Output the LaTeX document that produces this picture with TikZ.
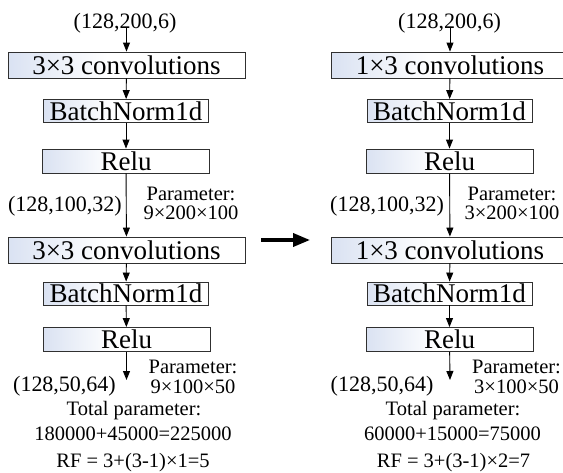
\documentclass[tikz,border=0pt]{standalone}
\usepackage{fontspec}
\setmainfont{Liberation Serif}
\usetikzlibrary{arrows.meta}
\definecolor{boxleft}{HTML}{DAE2F2}
\definecolor{boxline}{HTML}{303030}
\pgfdeclarehorizontalshading{boxshade}{100bp}{color(0bp)=(boxleft); color(25bp)=(boxleft); color(46bp)=(white); color(100bp)=(white)}
\begin{document}
\begin{tikzpicture}[x=1pt,y=-1pt,
  blk/.style={draw=boxline, line width=0.9pt, shading=boxshade, inner sep=0pt, font=\fontsize{27}{30}\selectfont},
  conv/.style={blk, minimum width=237pt, minimum height=26pt},
  bn/.style={blk, minimum width=165pt, minimum height=23pt},
  act/.style={blk, minimum width=167pt, minimum height=24pt},
  lbl/.style={inner sep=0pt, anchor=base, font=\fontsize{22}{24}\selectfont},
  par/.style={inner sep=0pt, anchor=base, font=\fontsize{20.5}{22}\selectfont},
  arr/.style={line width=0.9pt, -{Triangle[length=9pt,width=7pt]}},
  bigarr/.style={line width=3.5pt, -{Triangle[length=17pt,width=13pt]}},
]
\useasboundingbox (0,0) rectangle (563,472);
% ---------- left column ----------
\node[lbl] (lin) at (125,28) {(128,200,6)};
\node[conv] (lc1) at (126.5,65) {3×3 convolutions};
\node[bn] (lb1) at (126,111) {BatchNorm1d};
\node[act] (lr1) at (126,161) {Relu};
\node[conv] (lc2) at (126.5,250) {3×3 convolutions};
\node[bn] (lb2) at (126,293.5) {BatchNorm1d};
\node[act] (lr2) at (126.5,339.5) {Relu};
\coordinate (lend) at (126.5,380);
\node[lbl] (lsh1) at (65,211) {(128,100,32)};
\node[par] (lp1) at (191,200) {Parameter:};
\node[par] (lp1b) at (191,219) {9×200×100};
\node[lbl] (lsh2) at (64.5,391) {(128,50,64)};
\node[par] (lp2) at (193,373) {Parameter:};
\node[par] (lp2b) at (193,393) {9×100×50};
\node[par] (ltot) at (134,415) {Total parameter:};
\node[par] (lsum) at (133,440) {180000+45000=225000};
\node[par] (lrf) at (133,467) {RF = 3+(3-1)×1=5};
\draw[arr] (lin.base -| lc1.north) -- (lc1.north);
\draw[arr] (lc1) -- (lb1);
\draw[arr] (lb1) -- (lr1);
\draw[arr] (lr1) -- (lc2);
\draw[arr] (lc2) -- (lb2);
\draw[arr] (lb2) -- (lr2);
\draw[arr] (lr2) -- (lend);
% ---------- right column ----------
\node[lbl] (rin) at (449.5,28) {(128,200,6)};
\node[conv] (rc1) at (450,65) {1×3 convolutions};
\node[bn] (rb1) at (449.5,111) {BatchNorm1d};
\node[act] (rr1) at (449.5,161) {Relu};
\node[conv] (rc2) at (450,250) {1×3 convolutions};
\node[bn] (rb2) at (449.5,293.5) {BatchNorm1d};
\node[act] (rr2) at (449.5,339.5) {Relu};
\coordinate (rend) at (450,380);
\node[lbl] (rsh1) at (387,211) {(128,100,32)};
\node[par] (rp1) at (512,200) {Parameter:};
\node[par] (rp1b) at (512,219) {3×200×100};
\node[lbl] (rsh2) at (382,391) {(128,50,64)};
\node[par] (rp2) at (516.5,373) {Parameter:};
\node[par] (rp2b) at (516.5,393) {3×100×50};
\node[par] (rtot) at (453,415) {Total parameter:};
\node[par] (rsum) at (452.5,440) {60000+15000=75000};
\node[par] (rrf) at (453.5,467) {RF = 3+(3-1)×2=7};
\draw[arr] (rin.base -| rc1.north) -- (rc1.north);
\draw[arr] (rc1) -- (rb1);
\draw[arr] (rb1) -- (rr1);
\draw[arr] (rr1) -- (rc2);
\draw[arr] (rc2) -- (rb2);
\draw[arr] (rb2) -- (rr2);
\draw[arr] (rr2) -- (rend);
% ---------- middle arrow ----------
\draw[bigarr, shorten <=16pt, shorten >=21pt] ([yshift=10pt]lc2.east) -- ([yshift=10pt]rc2.west);
\end{tikzpicture}
\end{document}
